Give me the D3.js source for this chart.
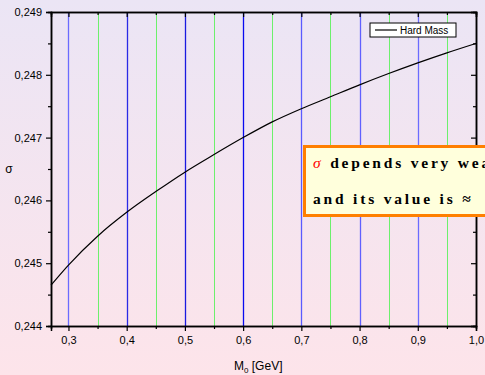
<!DOCTYPE html>
<html>
<head>
<meta charset="utf-8">
<script src="https://cdn.jsdelivr.net/npm/d3@7"></script>
<style>
  body { margin: 0; overflow: hidden; }
</style>
</head>
<body>
<div id="chart"></div>
<script>
// data
var massValues = [0.27, 0.30, 0.35, 0.40, 0.45, 0.50, 0.55, 0.60, 0.65, 0.70, 0.75, 0.80, 0.85, 0.90, 0.95, 1.00];
var sigmaValues = [0.24465, 0.24497, 0.24543, 0.24581, 0.24614, 0.24645, 0.24673, 0.24700, 0.24725, 0.24746, 0.24765, 0.24784, 0.24802, 0.24819, 0.24835, 0.24850];
var xTicks = [0.3, 0.4, 0.5, 0.6, 0.7, 0.8, 0.9, 1.0];
var xMinorTicks = [0.35, 0.45, 0.55, 0.65, 0.75, 0.85, 0.95];
var yTicks = [0.244, 0.245, 0.246, 0.247, 0.248, 0.249];
var yMinorTicks = [0.2445, 0.2455, 0.2465, 0.2475, 0.2485];
var gridColors = ["#6b6bff", "#2a2ae6", "#1a1ae0", "#0a0af0", "#5a5aff", "#6060ff", "#6b6bff"];

var svgWidth = 485;
var svgHeight = 375;
var margin = { top: 12, right: 9, bottom: 49, left: 51 };
var width = svgWidth - margin.left - margin.right;
var height = svgHeight - margin.top - margin.bottom;

var svg = d3.select("#chart")
    .append("svg")
    .attr("width", svgWidth)
    .attr("height", svgHeight)
    .attr("font-family", "Liberation Sans, Arial, sans-serif");

var grad = svg.append("defs").append("linearGradient")
    .attr("id", "bg")
    .attr("x1", 0).attr("y1", 0).attr("x2", 0).attr("y2", 1);
grad.append("stop").attr("offset", "0%").attr("stop-color", "#ebe5f5");
grad.append("stop").attr("offset", "100%").attr("stop-color", "#fde4ea");

svg.append("rect")
    .attr("width", svgWidth)
    .attr("height", svgHeight)
    .attr("fill", "url(#bg)");

var chartGroup = svg.append("g")
    .attr("transform", `translate(${margin.left}, ${margin.top})`);

var x = d3.scaleLinear().domain([0.27, 1.0]).range([0, width]);
var y = d3.scaleLinear().domain([0.244, 0.249]).range([height, 0]);

var fmt = d => d3.format(".1f")(d).replace(".", ",");
var fmtY = d => d3.format(".3f")(d).replace(".", ",");

// vertical lines (green dotted ones drawn as a light solid line)
chartGroup.selectAll(".minorline")
    .data(xMinorTicks)
    .enter()
    .append("line")
    .attr("class", "minorline")
    .attr("x1", d => Math.round(x(d)) + 0.5)
    .attr("x2", d => Math.round(x(d)) + 0.5)
    .attr("y1", 0)
    .attr("y2", height)
    .attr("stroke", "#6cf06c")
    .attr("stroke-width", 1);

chartGroup.selectAll(".majorline")
    .data(xTicks.slice(0, 7))
    .enter()
    .append("line")
    .attr("class", "majorline")
    .attr("x1", d => Math.round(x(d)) + 0.5)
    .attr("x2", d => Math.round(x(d)) + 0.5)
    .attr("y1", 0)
    .attr("y2", height)
    .attr("stroke", (d, i) => gridColors[i])
    .attr("stroke-width", 1.3);

// curve
var points = massValues.map((m, i) => [m, sigmaValues[i]]);
chartGroup.append("path")
    .datum(points)
    .attr("fill", "none")
    .attr("stroke", "black")
    .attr("stroke-width", 1.2)
    .attr("d", d3.line().x(d => x(d[0])).y(d => y(d[1])).curve(d3.curveMonotoneX));

// axes
var bottomAxis = d3.axisBottom(x).tickValues(xTicks).tickFormat(fmt).tickSize(5).tickPadding(5);
var bottomMinor = d3.axisBottom(x).tickValues(xMinorTicks).tickFormat("").tickSize(3);
var topAxis = d3.axisTop(x).tickValues(xTicks).tickFormat("").tickSize(-5);
var topMinor = d3.axisTop(x).tickValues(xMinorTicks).tickFormat("").tickSize(-3);
var leftAxis = d3.axisLeft(y).tickValues(yTicks).tickFormat(fmtY).tickSize(5).tickPadding(4);
var leftMinor = d3.axisLeft(y).tickValues(yMinorTicks).tickFormat("").tickSize(3);
var rightAxis = d3.axisRight(y).tickValues(yTicks).tickFormat("").tickSize(-5);
var rightMinor = d3.axisRight(y).tickValues(yMinorTicks).tickFormat("").tickSize(-3);

[
  [bottomAxis, `translate(0, ${height})`],
  [bottomMinor, `translate(0, ${height})`],
  [topAxis, "translate(0,0)"],
  [topMinor, "translate(0,0)"],
  [leftAxis, "translate(0,0)"],
  [leftMinor, "translate(0,0)"],
  [rightAxis, `translate(${width}, 0)`],
  [rightMinor, `translate(${width}, 0)`]
].forEach(function(a) {
    var g = chartGroup.append("g")
        .attr("transform", a[1])
        .call(a[0]);
    g.select(".domain").attr("stroke", "black").attr("stroke-width", 1.5);
    g.selectAll(".tick line").attr("stroke", "black").attr("stroke-width", 1.2);
    g.selectAll(".tick text")
        .attr("fill", "black")
        .attr("font-size", 11)
        .attr("font-family", "Liberation Sans, Arial, sans-serif");
});

// legend
var legend = chartGroup.append("g")
    .attr("transform", "translate(319, 11)");
legend.append("rect")
    .attr("width", 86)
    .attr("height", 14)
    .attr("fill", "white")
    .attr("stroke", "black")
    .attr("stroke-width", 1);
legend.append("line")
    .attr("x1", 5).attr("x2", 27)
    .attr("y1", 7).attr("y2", 7)
    .attr("stroke", "black")
    .attr("stroke-width", 1.2);
legend.append("text")
    .attr("x", 30)
    .attr("y", 11)
    .attr("font-size", 10)
    .text("Hard Mass");

// axis labels
svg.append("text")
    .attr("x", 9)
    .attr("y", 173)
    .attr("text-anchor", "middle")
    .attr("font-size", 12)
    .text("σ");

var xlabel = svg.append("text")
    .attr("x", 234)
    .attr("y", 370)
    .attr("font-size", 12);
xlabel.append("tspan").text("M");
xlabel.append("tspan").attr("font-size", 8).attr("dy", 3).text("0");
xlabel.append("tspan").attr("dy", -3).text(" [GeV]");

// annotation box (bold serif, spaced wide like the original; cut by the page edge as in the original)
var note = svg.append("g")
    .attr("font-family", "'Liberation Serif', serif")
    .attr("font-weight", "bold")
    .attr("font-size", 15.5)
    .attr("letter-spacing", 2.8);
note.append("rect")
    .attr("x", 304.5)
    .attr("y", 146.5)
    .attr("width", 200)
    .attr("height", 69)
    .attr("fill", "#ffffdc")
    .attr("stroke", "#ff7f00")
    .attr("stroke-width", 3);
var line1 = note.append("text")
    .attr("x", 313)
    .attr("y", 168);
line1.append("tspan")
    .attr("fill", "#ff0000")
    .attr("font-style", "italic")
    .attr("font-weight", "normal")
    .text("σ");
line1.append("tspan").text(" depends very weakly");
note.append("text")
    .attr("x", 313)
    .attr("y", 204)
    .text("and its value is ≈");
</script>
</body>
</html>
